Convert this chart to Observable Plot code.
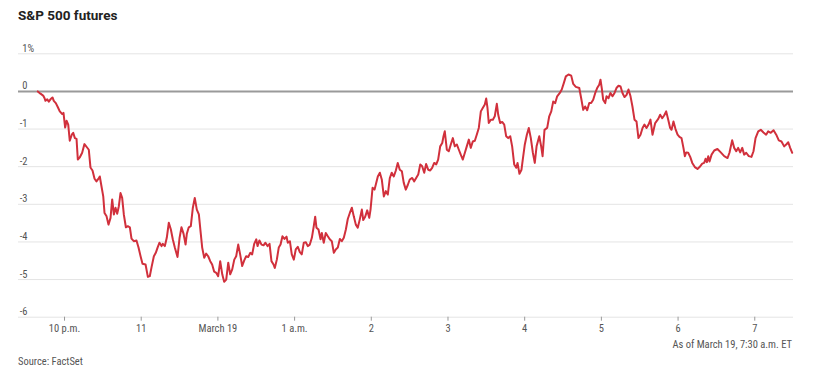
<!DOCTYPE html>
<html>
<head>
<meta charset="utf-8">
<script src="https://cdn.jsdelivr.net/npm/d3@7"></script>
<script src="https://cdn.jsdelivr.net/npm/@observablehq/plot@0.6"></script>
<style>
  html, body { margin: 0; padding: 0; background: #fff; }
  #wrap { position: relative; width: 830px; height: 381px; font-family: "Liberation Sans Narrow", "Roboto Condensed", Roboto, sans-serif; }
  #title { position: absolute; left: 18px; top: 6px; font-family: Roboto, "Noto Sans", sans-serif; font-weight: 700; font-size: 13.5px; line-height: 18px; color: #222; }
  #chart { position: absolute; left: 0; top: 30px; }
  #asof { position: absolute; right: 38px; top: 338px; font-size: 10.5px; line-height: 14px; color: #555; }
  #source { position: absolute; left: 18px; top: 355px; font-size: 10.5px; line-height: 14px; color: #555; }
</style>
</head>
<body>
<div id="wrap">
  <div id="title">S&amp;P 500 futures</div>
  <div id="chart"></div>
  <div id="asof">As of March 19, 7:30 a.m. ET</div>
  <div id="source">Source: FactSet</div>
</div>
<script>
// minutes after 9 p.m. ET, March 18
const minutes = [
39.1,41.2,43.3,44.4,45.1,46.5,47.7,49.0,50.6,51.6,53.2,54.8,56.3,58.2,59.2,60.5,61.6,62.9,64.1,65.7,66.8,68.1,69.4,70.4,72.0,73.8,75.6,77.2,79.0,80.3,81.9,83.5,85.0,86.6,87.6,88.7,90.3,91.3,92.9,94.4,96.0,97.3,98.6,99.9,101.2,102.5,103.8,105.1,106.4,108.0,109.5,111.1,112.4,114.2,116.3,117.9,119.5,121.0,123.4,125.2,126.7,128.1,129.9,131.4,
132.8,134.3,135.9,136.9,138.5,140.0,141.6,143.2,144.7,146.3,148.4,150.0,151.5,153.1,154.7,155.7,157.2,158.8,160.4,161.9,163.5,165.1,166.6,167.7,169.3,170.8,172.4,174.0,175.5,177.1,178.7,180.2,181.8,183.4,184.9,186.5,188.1,189.6,191.2,192.8,194.3,195.9,197.4,199.0,200.6,202.1,203.7,205.3,206.8,208.4,210.0,211.0,212.5,214.1,215.7,217.2,218.8,220.4,221.9,223.5,224.5,226.1,227.6,
229.0,230.5,232.1,233.7,234.7,236.3,237.8,239.4,240.9,242.5,244.1,245.6,247.2,248.8,250.3,251.9,253.5,255.0,256.1,257.1,258.7,260.3,261.3,262.8,264.4,266.0,267.5,269.1,270.7,272.2,273.8,275.4,276.9,278.5,280.1,281.6,283.2,284.8,286.3,287.9,289.4,291.0,292.6,293.7,295.2,296.8,298.4,299.4,301.0,302.5,303.5,305.1,306.7,308.2,309.8,311.4,312.9,314.5,316.0,317.6,319.2,320.7,322.3,323.9,325.4,327.0,328.6,330.1,
332.0,333.6,335.1,336.7,338.3,339.8,341.4,342.9,344.5,346.1,347.6,349.2,350.8,352.3,353.9,355.5,356.5,357.5,359.1,360.6,362.2,363.8,365.3,366.9,368.5,370.0,371.6,373.2,374.7,376.3,377.8,379.4,381.0,382.5,384.1,385.7,387.2,388.8,389.9,390.9,391.9,393.5,395.1,396.6,398.2,399.3,400.8,402.4,404.0,405.5,407.1,408.7,410.2,411.8,413.4,414.4,415.9,417.5,418.5,420.1,421.7,423.2,424.8,426.4,427.9,
429.3,431.4,432.9,434.0,435.5,437.6,439.2,440.8,442.3,443.9,445.4,447.5,449.0,450.6,452.2,454.3,456.4,458.0,460.0,462.7,464.2,465.8,467.3,468.9,470.5,472.0,473.6,475.2,476.7,478.3,479.3,480.3,481.4,483.0,484.0,485.6,487.1,488.7,490.3,491.8,493.4,495.0,496.5,498.1,499.7,501.2,502.8,504.3,505.9,507.5,509.0,510.6,512.2,513.7,515.3,516.9,518.4,520.0,522.1,
524.5,526.0,527.6,529.1,530.7,532.3,533.8,534.9,536.4,538.0,539.6,541.1,542.7,544.2,545.3,546.4,547.9,549.5,551.1,553.1,555.2,556.8,558.9,560.4,561.5,562.5,563.6,564.6,566.2,568.3,570.8,573.4,576.1,578.7,580.2,582.3,583.9,585.5,587.0,588.6,590.2,591.7,593.3,595.3,597.4,599.0,600.6,602.7,604.7,606.8,608.9,610.5,612.5,614.7,616.8,618.8,620.9,623.0,624.6,626.2,627.7,629.3
];
// percent change
const changes = [
0,-0.06,-0.11,-0.18,-0.25,-0.21,-0.27,-0.21,-0.16,-0.25,-0.31,-0.42,-0.53,-0.60,-0.57,-0.96,-0.78,-0.88,-1.31,-1.15,-1.10,-1.24,-1.26,-1.81,-1.75,-1.63,-1.40,-1.47,-1.55,-2.02,-2.10,-2.32,-2.39,-2.32,-2.26,-2.48,-2.79,-3.23,-3.32,-3.54,-3.36,-2.87,-3.27,-3.09,-3.25,-3.05,-2.70,-2.83,-3.27,-3.61,-3.58,-3.61,-3.91,-3.98,-3.96,-4.15,-4.38,-4.58,-4.60,-4.93,-4.91,-4.67,-4.38,-4.29,
-4.15,-4.02,-4.11,-4.05,-4.11,-3.89,-3.49,-3.67,-3.93,-4.15,-4.40,-3.89,-3.61,-3.78,-4.07,-3.78,-3.61,-3.58,-3.09,-2.83,-3.14,-3.27,-3.78,-4.15,-4.42,-4.31,-4.38,-4.51,-4.60,-4.79,-4.82,-4.91,-4.51,-4.86,-5.06,-5.00,-4.55,-4.86,-4.73,-4.47,-4.38,-4.07,-4.33,-4.64,-4.49,-4.38,-4.40,-4.29,-4.33,-4.05,-3.93,-4.11,-3.96,-4.07,-4.09,-4.02,-4.11,-4.05,-4.51,-4.60,-4.69,-4.47,-4.15,
-4.07,-3.85,-3.92,-3.86,-4.02,-3.98,-4.33,-4.47,-4.20,-4.13,-4.27,-4.33,-4.02,-4.01,-4.11,-4.07,-3.89,-3.58,-3.33,-3.62,-3.67,-3.93,-3.76,-4.02,-3.76,-3.85,-3.93,-3.98,-4.29,-4.20,-4.15,-3.92,-3.98,-3.89,-3.67,-3.39,-3.23,-3.09,-3.32,-3.54,-3.62,-3.40,-3.14,-3.42,-3.33,-3.16,-3.36,-3.14,-2.56,-2.61,-2.48,-2.26,-2.16,-2.34,-2.79,-2.65,-2.74,-2.30,-2.16,-2.26,-2.10,-1.90,-2.08,-2.12,-2.43,-2.61,-2.48,-2.34,
-2.30,-2.39,-2.30,-2.21,-1.94,-1.99,-2.16,-1.93,-2.08,-2.10,-2.03,-1.90,-1.94,-1.81,-1.46,-1.37,-1.19,-1.06,-1.55,-1.59,-1.41,-1.24,-1.46,-1.41,-1.55,-1.68,-1.81,-1.63,-1.46,-1.28,-1.50,-1.33,-1.31,-1.15,-0.97,-0.53,-0.44,-0.35,-0.19,-0.44,-0.84,-0.75,-0.75,-0.66,-0.33,-0.62,-0.84,-0.81,-0.88,-1.19,-1.24,-1.19,-1.46,-1.94,-2.03,-1.90,-2.19,-2.08,-1.81,-1.41,-1.15,-0.97,-1.24,-1.63,-1.90,
-1.46,-1.19,-1.46,-1.72,-1.02,-0.97,-0.66,-0.53,-0.27,-0.31,-0.13,-0.04,0.05,0.22,0.40,0.45,0.42,0.20,0.12,0.09,-0.18,-0.49,-0.40,-0.50,-0.31,-0.31,-0.22,-0.04,0.09,0.18,0.31,0.09,-0.22,-0.31,-0.13,-0.18,-0.04,-0.13,-0.04,0.09,0.15,0.13,-0.04,-0.15,-0.09,0.05,-0.13,-0.40,-0.75,-0.80,-1.24,-1.15,-0.97,-0.88,-0.97,-0.88,-0.75,-1.15,-0.84,
-0.73,-0.62,-0.71,-0.64,-0.53,-0.75,-0.97,-1.02,-0.80,-1.00,-1.15,-1.21,-1.24,-1.50,-1.72,-1.62,-1.63,-1.74,-1.90,-2.01,-2.06,-2.01,-1.92,-1.90,-1.79,-1.88,-1.72,-1.86,-1.68,-1.57,-1.53,-1.62,-1.72,-1.77,-1.63,-1.30,-1.50,-1.59,-1.50,-1.62,-1.50,-1.68,-1.63,-1.72,-1.74,-1.59,-1.24,-1.06,-1.02,-1.09,-1.15,-1.06,-1.10,-1.03,-1.15,-1.30,-1.33,-1.46,-1.41,-1.35,-1.50,-1.63
];
// x-axis ticks: minutes after 9 p.m.
const xTickMinutes = [60, 120, 180, 240, 300, 360, 420, 480, 540, 600];
const xTickLabels = ["10 p.m.", "11", "March 19", "1 a.m.", "2", "3", "4", "5", "6", "7"];
const yTicks = [1, 0, -1, -2, -3, -4, -5, -6];
const xDomainMinutes = [24, 630.3];

const base = new Date(2020, 2, 18, 21, 0, 0).getTime();
const toDate = m => new Date(base + m * 60000);
const n = Math.min(minutes.length, changes.length);
const data = d3.range(n).map(i => ({time: toDate(minutes[i]), change: changes[i]}));
const tickDates = xTickMinutes.map(toDate);
const labelMap = new Map(tickDates.map((d, i) => [d.getTime(), xTickLabels[i]]));
const fmtY = d => (d < 0 ? "-" + Math.abs(d) : String(d));

const chart = Plot.plot({
  width: 830,
  height: 305,
  marginLeft: 18,
  marginRight: 37,
  marginTop: 23.3,
  marginBottom: 18.3,
  style: {fontFamily: '"Liberation Sans Narrow", "Roboto Condensed", Roboto, sans-serif', fontSize: "10.5px", color: "#555", background: "transparent"},
  x: {type: "time", domain: xDomainMinutes.map(toDate)},
  y: {domain: [-6, 1], axis: null},
  marks: [
    Plot.ruleY(yTicks.filter(d => d !== 0), {stroke: "#e4e4e4", strokeWidth: 1}),
    Plot.axisX({ticks: tickDates, tickFormat: d => labelMap.get(d.getTime()), tickSize: 4, tickPadding: 3, stroke: "#999", fill: "#555"}),
    Plot.text(yTicks, {y: d => d, text: fmtY, frameAnchor: "left", textAnchor: "end", dx: 9, lineAnchor: "bottom", dy: -2, fill: "#555"}),
    Plot.text(yTicks.filter(d => d === 1), {y: d => d, text: () => "%", frameAnchor: "left", textAnchor: "start", dx: 9, lineAnchor: "bottom", dy: -2, fill: "#555"}),
    Plot.ruleY([0], {stroke: "#9a9a9a", strokeWidth: 2}),
    Plot.line(data, {x: "time", y: "change", stroke: "#d1303c", strokeWidth: 2, curve: "linear"})
  ]
});
document.getElementById("chart").appendChild(chart);
</script>
</body>
</html>
